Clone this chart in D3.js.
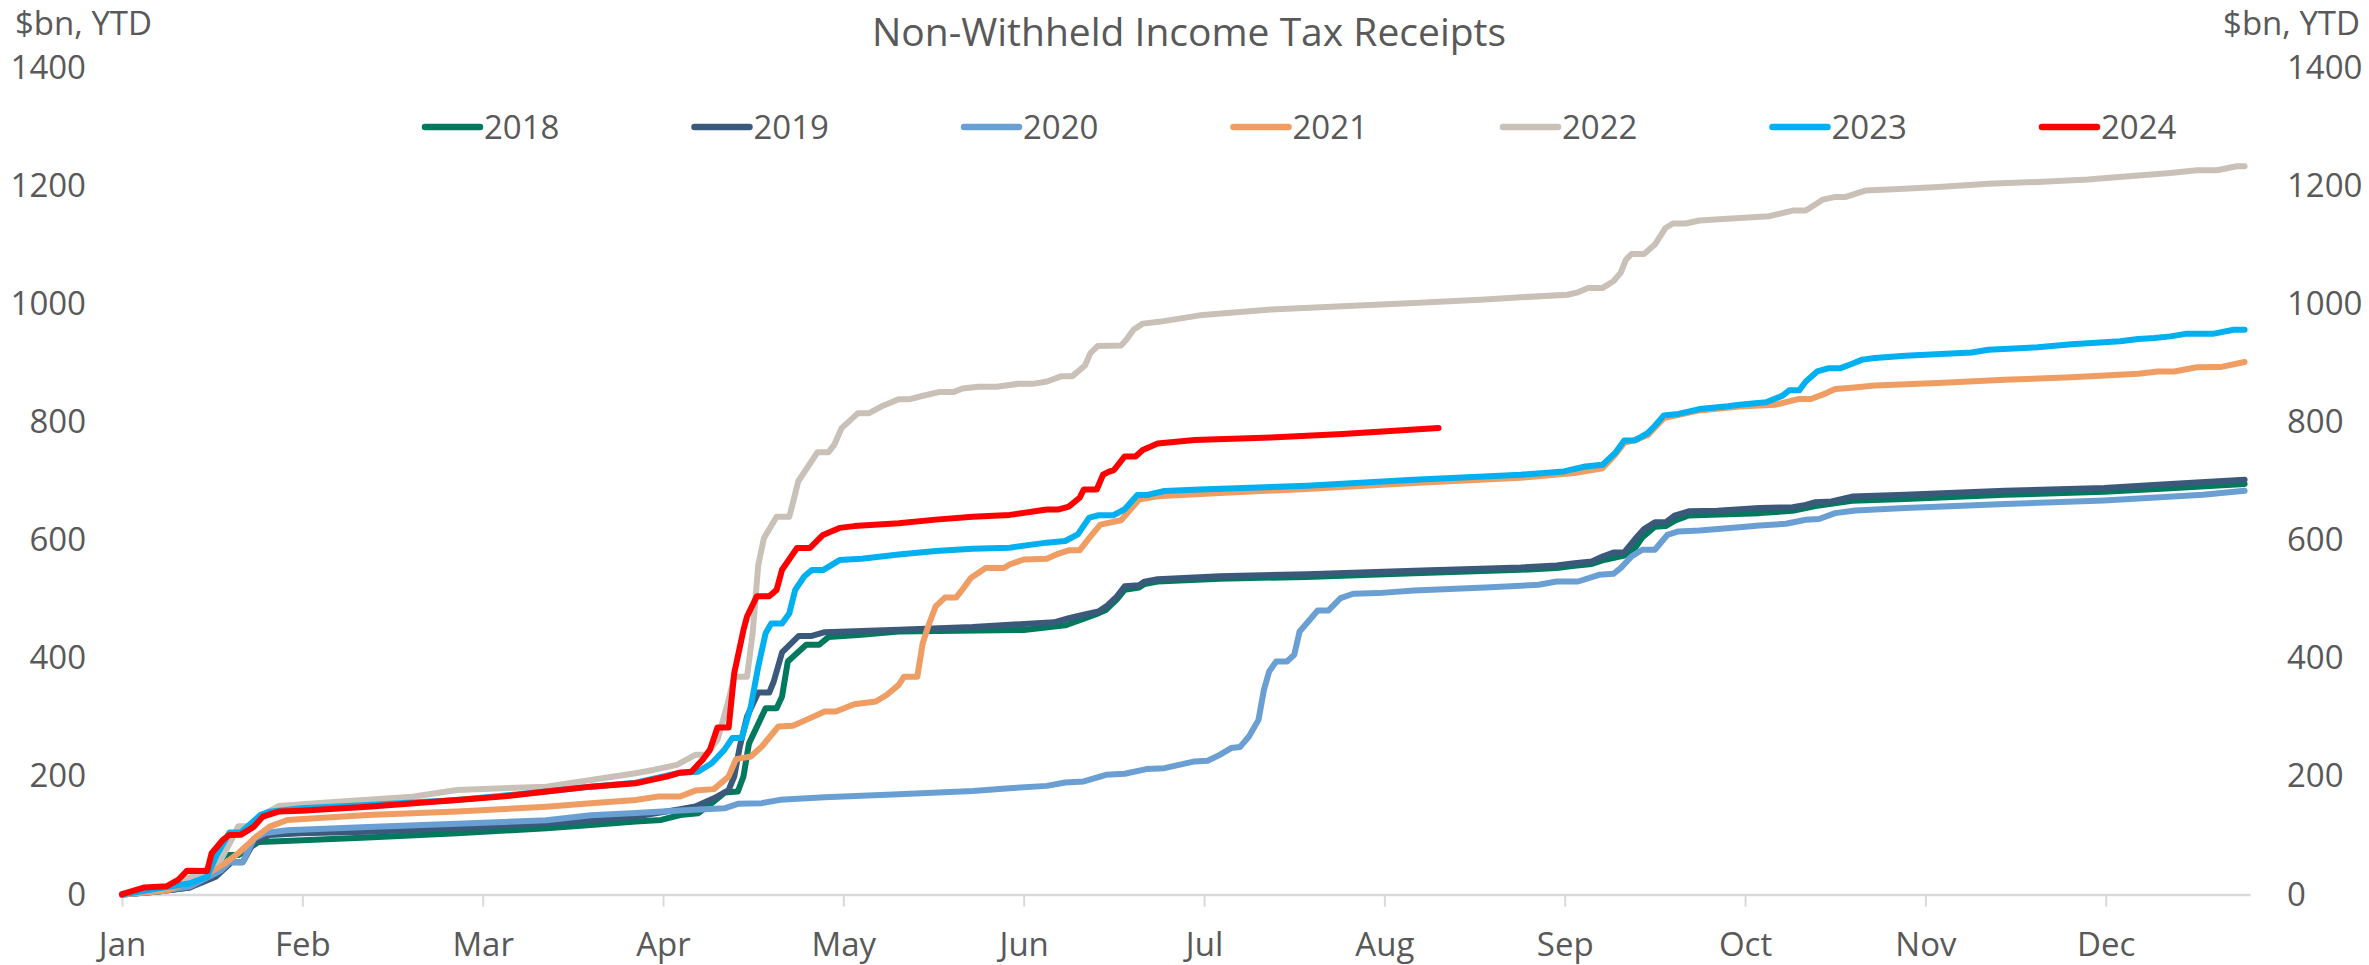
<!DOCTYPE html>
<html>
<head>
<meta charset="utf-8">
<script src="https://cdn.jsdelivr.net/npm/d3@7"></script>
<style>
  body { margin: 0; background: #fff; }
  text { font-family: "Segoe UI", "Open Sans", sans-serif; fill: #595959; }
</style>
</head>
<body>
<div id="chart"></div>
<script>
// x is in months from 1 Jan (0 = Jan, 1 = Feb ...), y is $bn year to date
var months = ["Jan", "Feb", "Mar", "Apr", "May", "Jun", "Jul", "Aug", "Sep", "Oct", "Nov", "Dec"];
var yTicks = [0, 200, 400, 600, 800, 1000, 1200, 1400];
var years = ["2018", "2019", "2020", "2021", "2022", "2023", "2024"];
var colors = ["#00795f", "#3b5a7b", "#6a9fd3", "#ef9d62", "#c9c0b8", "#00b0f0", "#ff0000"];

var s2018 = [[0,0],[0.2,5],[0.376,12],[0.484,33],[0.571,66.7],[0.645,66.7],[0.757,89],[0.868,90],[1.363,96.6],[1.858,103.6],[2.353,112.2],[2.6,117.8],[2.848,123.5],[2.99,126.3],[3.095,134.7],[3.194,137.5],[3.282,157.5],[3.343,172.8],[3.415,174.5],[3.446,200],[3.477,256],[3.569,315.6],[3.63,315.6],[3.66,335.4],[3.692,394.6],[3.794,423],[3.866,423],[3.917,436],[4.102,440],[4.307,445.5],[5.0,448],[5.23,456],[5.395,473.8],[5.456,482],[5.517,500],[5.56,516],[5.64,520],[5.67,526],[5.743,530],[6.087,535],[6.57,538],[7.164,544],[7.757,550],[7.955,553],[8.054,557],[8.15,560],[8.21,566],[8.33,574],[8.39,587],[8.43,605],[8.5,623],[8.559,624],[8.609,633],[8.688,642],[9.08,646],[9.264,650],[9.39,658],[9.594,667],[9.888,670],[10.44,677],[10.99,682],[11.359,688],[11.77,695.5]];
var s2019 = [[0,0],[0.2,5],[0.376,12],[0.52,30],[0.608,54.8],[0.67,54.8],[0.732,89],[0.819,100.9],[0.992,103.7],[1.363,106.5],[1.858,112.2],[2.353,120.6],[2.6,125.1],[2.848,131.9],[3.095,144.3],[3.179,149],[3.282,163],[3.364,177],[3.395,200],[3.426,250.7],[3.466,301.5],[3.528,342],[3.589,342],[3.614,360.8],[3.66,410],[3.753,438],[3.825,438],[3.897,444.4],[4.307,448.4],[4.717,453],[5.025,458.6],[5.169,461],[5.25,468],[5.333,473.8],[5.415,479.4],[5.466,490],[5.517,505],[5.56,522],[5.64,524],[5.67,530],[5.743,534],[6.087,539],[6.57,542.6],[7.164,548.3],[7.757,554],[7.955,557.3],[8.054,561.3],[8.15,564],[8.21,572.6],[8.27,579.4],[8.33,579.4],[8.39,602],[8.44,619],[8.5,630.4],[8.559,630.4],[8.609,641.7],[8.688,649],[8.846,650.2],[9.08,654.7],[9.264,656],[9.337,660],[9.39,664.6],[9.48,665.7],[9.594,674],[9.888,677],[10.44,684],[10.99,688.4],[11.359,695.2],[11.77,702.6]];
var s2020 = [[0,0],[0.2,5],[0.376,13.6],[0.548,40.7],[0.596,54.8],[0.67,54.8],[0.732,94.6],[0.794,104.2],[0.917,108.8],[1.363,114.4],[1.858,120],[2.353,125.7],[2.6,134.2],[2.848,138],[3.095,142.4],[3.34,146],[3.415,153.6],[3.548,154.7],[3.65,160.3],[3.897,164.8],[4.307,169.9],[4.717,175.5],[4.922,180],[5.128,184],[5.23,189.8],[5.333,191.5],[5.456,202.8],[5.56,204.5],[5.68,212.4],[5.78,214],[5.948,225.4],[6.02,226.5],[6.087,236.6],[6.15,248],[6.2,250],[6.25,268],[6.302,295.8],[6.332,346.6],[6.361,377.7],[6.4,394.6],[6.46,394.6],[6.5,406],[6.53,445.5],[6.57,459.6],[6.63,481],[6.689,481],[6.757,502],[6.827,509.4],[6.966,510.5],[7.164,515],[7.56,520],[7.856,524.6],[7.955,530.2],[8.074,530.2],[8.19,541.5],[8.27,543.2],[8.31,552.8],[8.37,572.6],[8.43,584],[8.5,584],[8.569,609],[8.63,615],[8.747,616.4],[8.969,622],[9.08,625],[9.227,628],[9.337,634.8],[9.41,636],[9.5,646],[9.612,650.5],[9.888,654.5],[10.44,661.3],[10.99,667.6],[11.54,677],[11.77,683.8]];
var s2021 = [[0,0],[0.249,6.8],[0.447,30],[0.571,52.9],[0.645,70],[0.744,98],[0.819,115],[0.917,126.3],[1.363,134.7],[1.858,140.4],[2.353,148.8],[2.6,154.4],[2.848,160],[2.97,165.8],[3.095,166],[3.179,176],[3.282,178.5],[3.364,200],[3.405,229.3],[3.487,233.8],[3.548,250.7],[3.64,284.6],[3.72,285.7],[3.794,295.8],[3.897,310],[3.958,310],[4.06,322.4],[4.18,327],[4.24,338],[4.307,355],[4.337,369],[4.41,369],[4.44,425.6],[4.47,454],[4.512,488],[4.563,503],[4.625,503],[4.666,519],[4.707,536],[4.789,553],[4.89,553],[4.922,559],[5.0,567.5],[5.128,568.7],[5.19,577],[5.25,583],[5.31,583],[5.364,604],[5.425,626.6],[5.54,634],[5.64,669],[5.743,674.4],[6.087,680],[6.57,687],[7.164,697],[7.757,706],[8.054,714],[8.21,722],[8.28,745],[8.33,765],[8.39,770],[8.46,778],[8.55,807],[8.747,820],[8.969,826.8],[9.17,829.7],[9.3,839.4],[9.365,839.4],[9.43,846.7],[9.5,856.3],[9.576,858],[9.72,862],[10.07,866.5],[10.44,872],[10.81,876],[11.18,882],[11.29,886],[11.38,886],[11.506,893],[11.635,893.4],[11.77,902]];
var s2022 = [[0,0],[0.249,11.3],[0.447,38],[0.55,60],[0.62,100],[0.645,115.8],[0.72,115.8],[0.794,137],[0.868,149.9],[1.115,155.5],[1.61,165.7],[1.858,177],[2.353,182.7],[2.6,194],[2.848,205.3],[2.946,211],[3.077,219.6],[3.179,236.6],[3.24,236.6],[3.302,262],[3.364,330],[3.395,369],[3.466,369],[3.497,442.7],[3.528,558],[3.56,604],[3.63,640],[3.7,640],[3.72,663],[3.75,700],[3.856,749],[3.917,749],[3.95,762],[3.99,790],[4.08,815],[4.14,815],[4.22,828],[4.307,839],[4.37,839],[4.43,844],[4.53,851],[4.61,851],[4.66,857],[4.75,860],[4.85,860],[4.97,865],[5.05,865],[5.13,869],[5.21,878],[5.27,878],[5.34,896],[5.37,917],[5.41,929],[5.54,930],[5.57,940],[5.61,957],[5.66,967],[5.75,970],[5.976,981],[6.371,990.8],[6.768,996.4],[7.164,1002],[7.559,1007.7],[7.757,1011.6],[8.015,1016],[8.074,1020],[8.13,1027.5],[8.21,1027.5],[8.27,1038.8],[8.31,1053],[8.34,1075.4],[8.37,1085],[8.44,1085],[8.5,1101],[8.559,1129],[8.6,1136.6],[8.67,1136.6],[8.747,1141.7],[8.969,1146],[9.135,1149],[9.264,1158.5],[9.337,1158.5],[9.43,1177],[9.502,1181.6],[9.558,1181.6],[9.667,1192.3],[9.796,1194],[10.072,1198.5],[10.35,1204],[10.623,1207],[10.9,1211],[11.18,1218],[11.359,1222.3],[11.506,1226.8],[11.617,1226.8],[11.727,1233.6],[11.77,1233.6]];
var s2023 = [[0,0],[0.2,10],[0.376,19],[0.472,30],[0.52,64],[0.596,105],[0.658,105],[0.769,135],[0.819,140.4],[0.992,146],[1.363,151.7],[1.858,160],[2.353,174.3],[2.6,182.7],[2.848,189.4],[3.095,206.4],[3.194,208],[3.27,222.3],[3.34,245],[3.384,265],[3.436,265],[3.487,318.5],[3.528,386],[3.569,442.7],[3.6,459],[3.66,459],[3.7,476],[3.733,516],[3.784,539],[3.825,549.5],[3.887,549.5],[3.979,566.5],[4.102,568.7],[4.307,576],[4.512,581.9],[4.717,585.8],[4.922,587.5],[5.128,596],[5.23,598.8],[5.3,610],[5.364,638.5],[5.415,642.4],[5.497,642.4],[5.56,652.6],[5.63,676.6],[5.68,676.6],[5.78,683.4],[5.976,686],[6.57,692.4],[7.164,702.6],[7.757,711],[7.995,716.7],[8.114,725],[8.21,728],[8.28,748],[8.33,769.2],[8.39,769.2],[8.46,781.6],[8.5,794],[8.55,811.6],[8.63,814],[8.747,822.3],[8.906,827],[8.969,829.7],[9.116,833.7],[9.208,845],[9.245,854],[9.3,854],[9.337,869],[9.4,886],[9.466,891.6],[9.53,891.6],[9.594,899],[9.65,906],[9.72,908.6],[9.888,912.6],[10.256,918],[10.35,922.6],[10.623,927],[10.81,932],[11.08,937],[11.18,941],[11.27,942.5],[11.359,945.4],[11.45,950],[11.6,950],[11.71,956.6],[11.77,956.6]];
var s2024 = [[0,0],[0.014,2],[0.125,12],[0.249,14],[0.311,24.6],[0.361,40.4],[0.472,40],[0.497,69.8],[0.559,92.4],[0.596,100.9],[0.658,101],[0.732,115],[0.781,131.9],[0.868,140.4],[0.992,142],[1.363,148.8],[1.858,160],[2.105,165.8],[2.353,174.3],[2.6,182.7],[2.848,188.3],[3.02,199.6],[3.095,206.4],[3.157,208],[3.219,228],[3.26,245],[3.302,283],[3.364,283],[3.395,375],[3.446,448],[3.466,471],[3.52,505],[3.589,505],[3.63,516],[3.66,550],[3.743,587],[3.815,587],[3.887,609],[3.979,621],[4.06,624],[4.307,629],[4.512,635],[4.717,640],[4.922,643],[5.128,652],[5.19,652],[5.25,657],[5.31,672],[5.333,686],[5.405,686],[5.44,711],[5.47,716],[5.5,719],[5.56,742],[5.62,742],[5.66,753],[5.743,764],[5.948,770],[6.371,774],[6.768,780],[7.3,790]];

var series = [s2018, s2019, s2020, s2021, s2022, s2023, s2024];

var width = 2369, height = 965;
var margin = {top: 68, right: 119, bottom: 70.5, left: 122};

var svg = d3.select("#chart")
    .append("svg")
    .attr("width", width)
    .attr("height", height);

// scales
var x = d3.scaleLinear()
    .domain([0, 11.8])
    .range([margin.left, width - margin.right]);

var y = d3.scaleLinear()
    .domain([0, 1400])
    .range([height - margin.bottom, margin.top]);

// title
svg.append("text")
    .attr("x", 1189)
    .attr("y", 46)
    .attr("text-anchor", "middle")
    .style("font-size", "39px")
    .text("Non-Withheld Income Tax Receipts");

// unit labels
svg.append("text")
    .attr("x", 15)
    .attr("y", 35)
    .style("font-size", "33px")
    .text("$bn, YTD");
svg.append("text")
    .attr("x", 2360)
    .attr("y", 35)
    .attr("text-anchor", "end")
    .style("font-size", "33px")
    .text("$bn, YTD");

// y axes, both sides (plain numbers, no thousands separator)
var yLeft = svg.append("g")
    .attr("transform", "translate(" + margin.left + ",0)")
    .call(d3.axisLeft(y).tickValues(yTicks).tickFormat(d3.format("d")).tickSize(0).tickPadding(36));
var yRight = svg.append("g")
    .attr("transform", "translate(" + (width - margin.right) + ",0)")
    .call(d3.axisRight(y).tickValues(yTicks).tickFormat(d3.format("d")).tickSize(0).tickPadding(37));
[yLeft, yRight].forEach(function(g) {
    g.select(".domain").remove();
    g.selectAll("text").style("font-size", "33px").attr("fill", "#595959");
});

// x axis
var xAxis = svg.append("g")
    .attr("transform", "translate(0," + y(0) + ")")
    .call(d3.axisBottom(x)
        .tickValues(d3.range(12))
        .tickFormat(function(d, i) { return months[i]; })
        .tickSize(12)
        .tickSizeOuter(0)
        .tickPadding(26));
xAxis.select(".domain").attr("stroke", "#d9d9d9").attr("stroke-width", 2.5);
xAxis.selectAll(".tick line").attr("stroke", "#d9d9d9").attr("stroke-width", 2);
xAxis.selectAll("text").style("font-size", "33px").attr("fill", "#595959");

// lines
var line = d3.line()
    .x(function(d) { return x(d[0]); })
    .y(function(d) { return y(d[1]); });

svg.selectAll(".series")
    .data(series)
    .enter()
    .append("path")
    .attr("class", "series")
    .attr("d", line)
    .attr("fill", "none")
    .attr("stroke", function(d, i) { return colors[i]; })
    .attr("stroke-width", 6)
    .attr("stroke-linejoin", "round")
    .attr("stroke-linecap", "round");

// legend
var legend = svg.selectAll(".legend")
    .data(years)
    .enter()
    .append("g")
    .attr("class", "legend")
    .attr("transform", function(d, i) { return "translate(" + (425 + i * 269.5) + ",127)"; });

legend.append("line")
    .attr("x1", 0)
    .attr("x2", 55)
    .attr("stroke", function(d, i) { return colors[i]; })
    .attr("stroke-width", 6.5)
    .attr("stroke-linecap", "round");

legend.append("text")
    .attr("x", 59)
    .attr("dy", "0.35em")
    .style("font-size", "33px")
    .text(function(d) { return d; });
</script>
</body>
</html>
